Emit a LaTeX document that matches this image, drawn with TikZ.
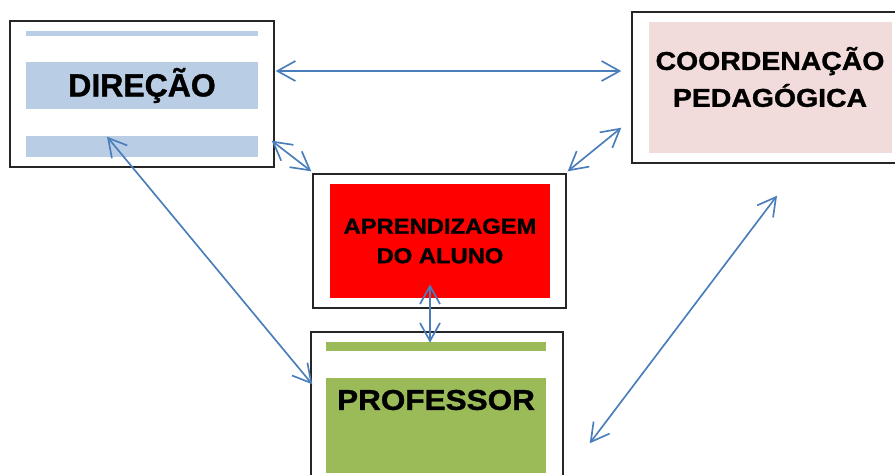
\documentclass[tikz,border=0pt]{standalone}
\usepackage{fontspec}
\setmainfont{Liberation Sans}
\newfontfamily\widefont[FakeStretch=1.1, FakeBold=1.2]{Liberation Sans}
\newfontfamily\heavyfont[FakeBold=1.2]{Liberation Sans}
\usetikzlibrary{arrows.meta,calc}
\definecolor{dirblue}{RGB}{185,205,229}
\definecolor{coordpink}{RGB}{242,220,219}
\definecolor{profgreen}{RGB}{155,187,89}
\definecolor{arrowblue}{RGB}{74,126,187}

\begin{document}
\begin{tikzpicture}[x=0.02cm, y=-0.02cm,
    frame/.style={draw=black!85, line width=0.8pt, fill=white, inner sep=0pt},
    bar/.style={inner sep=0pt, font=\bfseries},
    link/.style={draw=arrowblue, line width=0.95pt,
      {Straight Barb[length=0.36cm, width=0.4cm, line width=0.95pt]}-{Straight Barb[length=0.36cm, width=0.4cm, line width=0.95pt]}}]
  \useasboundingbox (0,0) rectangle (895,474);
  % direcao
  \node[frame, minimum width=264*0.02cm, minimum height=146*0.02cm] (dir) at (142,94) {};
  \node[bar, fill=dirblue, minimum width=232*0.02cm, minimum height=5*0.02cm] (dirtop) at (142,33.5) {};
  \node[bar, fill=dirblue, minimum width=232*0.02cm, minimum height=47*0.02cm,
    font=\heavyfont\fontsize{18.2}{20}\selectfont\bfseries] (dirmain) at (142,85.5) {DIREÇÃO};
  \node[bar, fill=dirblue, minimum width=232*0.02cm, minimum height=21*0.02cm] (dirlow) at (142,146.5) {};
  % coordenacao
  \node[frame, minimum width=270*0.02cm, minimum height=151*0.02cm] (coord) at (767,87.5) {};
  \node[bar, fill=coordpink, minimum width=243*0.02cm, minimum height=131*0.02cm] (coordin) at (770.5,87.5) {};
  \node[bar, align=center, font=\widefont\fontsize{14.7}{21}\selectfont\bfseries] (coordtext) at (770,77)
    {COORDENAÇÃO\\PEDAGÓGICA};
  % aprendizagem
  \node[frame, minimum width=253*0.02cm, minimum height=134*0.02cm] (aprend) at (439.5,241) {};
  \node[bar, fill=red, minimum width=220*0.02cm, minimum height=114*0.02cm, align=center,
    font=\widefont\fontsize{12.3}{16.8}\selectfont\bfseries] (aprendin) at (440,241)
    {APRENDIZAGEM\\DO ALUNO};
  % professor
  \node[frame, minimum width=252*0.02cm, minimum height=148*0.02cm] (prof) at (437,406) {};
  \node[bar, fill=profgreen, minimum width=220*0.02cm, minimum height=9*0.02cm] (profbar) at (436,346.5) {};
  \node[bar, fill=profgreen, minimum width=220*0.02cm, minimum height=95*0.02cm] (profmain) at (436,425.5) {};
  \node[bar, font=\widefont\fontsize{16.3}{20}\selectfont\bfseries] (proftext) at (436,400) {PROFESSOR};
  % setas
  \draw[link] ($(dir.east)+(1,-23)$) -- ($(coord.west)+(-10,-16.5)$);
  \draw[link] ($(dir.south east)+(-3,-27)$) -- ($(aprend.north west)+(-1,-2)$);
  \draw[link] ($(coord.south west)+(-10,-36)$) -- ($(aprend.north east)+(1,-2)$);
  \draw[link] ($(dirlow.north)+(-35,1)$) -- ($(prof.north west)+(2,53)$);
  \draw[link] ($(aprendin.south)+(-10,-14)$) -- ($(profbar.north)+(-6,1)$);
  \draw[link] ($(coord.south)+(10,32)$) -- ($(prof.north east)+(26,112)$);
\end{tikzpicture}
\end{document}
